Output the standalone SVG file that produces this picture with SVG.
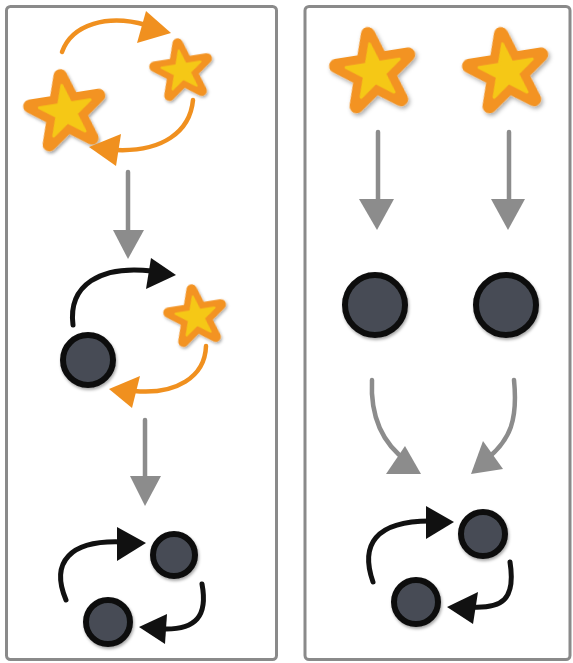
<svg xmlns="http://www.w3.org/2000/svg" width="573" height="663" viewBox="0 0 573 663">
<style>
.panel{fill:#fff;stroke:#8a8a8a;stroke-width:3}
.orange{fill:none;stroke:#F0901F;stroke-width:4.5;stroke-linecap:round}
.black{fill:none;stroke:#111;stroke-width:5;stroke-linecap:round}
.gray{fill:none;stroke:#8c8c8c;stroke-width:4.5;stroke-linecap:round}
.hO{fill:#F0901F}
.hB{fill:#111}
.hG{fill:#8c8c8c}
.dot{fill:#474c55;stroke:#0d0d0d;stroke-width:6}
</style>
<defs>
<filter id="sh" x="-30%" y="-30%" width="160%" height="160%">
<feDropShadow dx="1" dy="2" stdDeviation="1.5" flood-color="#000" flood-opacity="0.35"/>
</filter>
<path id="sp" d="M0,-30 L6.76,-9.3 L28.53,-9.27 L10.94,3.55 L17.63,24.27 L0,11.5 L-17.63,24.27 L-10.94,3.55 L-28.53,-9.27 L-6.76,-9.3 Z"/>
<g id="star" filter="url(#sh)">
<use href="#sp" fill="#F39324" stroke="#F39324" stroke-width="11" stroke-linejoin="round"/>
<use href="#sp" transform="scale(0.74)" fill="#F5C816" stroke="#F5C816" stroke-width="3" stroke-linejoin="round"/>
</g>
</defs>
<rect width="573" height="663" fill="#fff"/>
<rect class="panel" x="6.5" y="6.5" width="270" height="653" rx="4"/>
<rect class="panel" x="305" y="6.5" width="265" height="653" rx="4"/>

<g id="L-star-big"><use href="#star" transform="translate(66,112) rotate(-9) scale(1.22)"/></g>
<g id="L-star-small"><use href="#star" transform="translate(182,71) rotate(-9) scale(0.93)"/></g>
<g id="L-circle-mid" filter="url(#sh)"><circle class="dot" cx="88" cy="360" r="25"/></g>
<g id="L-star-mid"><use href="#star" transform="translate(196,317) rotate(-9) scale(0.93)"/></g>
<g id="L-circle-b1" filter="url(#sh)"><circle class="dot" cx="174" cy="555" r="21"/></g>
<g id="L-circle-b2" filter="url(#sh)"><circle class="dot" cx="108" cy="622" r="22"/></g>

<g id="R-star-1"><use href="#star" transform="translate(374,72) rotate(-9) scale(1.28)"/></g>
<g id="R-star-2"><use href="#star" transform="translate(507,72) rotate(-9) scale(1.28)"/></g>
<g id="R-circle-1" filter="url(#sh)"><circle class="dot" cx="375" cy="305" r="30"/></g>
<g id="R-circle-2" filter="url(#sh)"><circle class="dot" cx="506" cy="305" r="30"/></g>
<g id="R-circle-b1" filter="url(#sh)"><circle class="dot" cx="483" cy="534" r="22"/></g>
<g id="R-circle-b2" filter="url(#sh)"><circle class="dot" cx="416" cy="602" r="22"/></g>

<g id="connectors">
<path class="orange" d="M62,52 C72,24 108,14 146,25"/>
<polygon class="hO" points="146,11 171,33 137,43"/>
<path class="orange" d="M193,100 C190,132 162,152 116,150"/>
<polygon class="hO" points="121,134 89,147 116,166"/>
<path class="gray" d="M128,172 L128,234"/>
<polygon class="hG" points="113,230 144,230 128,259"/>

<path class="black" d="M73,325 C68,285 100,265 152,271"/>
<polygon class="hB" points="151,258 176,275 146,289"/>
<path class="orange" d="M206,346 C205,377 176,395 134,391"/>
<polygon class="hO" points="140,376 109,389 132,408"/>
<path class="gray" d="M145,420 L145,480"/>
<polygon class="hG" points="130,476 161,476 145,506"/>

<path class="black" d="M66,600 C50,562 70,540 122,542"/>
<polygon class="hB" points="117,527 146,543 117,561"/>
<path class="black" d="M202,584 C208,616 196,630 163,629"/>
<polygon class="hB" points="167,614 139,627 165,644"/>

<path class="gray" d="M378,132 L378,204"/>
<polygon class="hG" points="359,199 394,199 377,230"/>
<path class="gray" d="M509,132 L509,204"/>
<polygon class="hG" points="491,199 525,199 508,230"/>

<path class="gray" d="M372,380 C370,420 384,445 408,462"/>
<polygon class="hG" points="405,446 386,474 421,474"/>
<path class="gray" d="M514,380 C518,420 510,440 488,458"/>
<polygon class="hG" points="483,441 471,474 503,469"/>

<path class="black" d="M373,582 C360,545 375,521 430,521"/>
<polygon class="hB" points="426,506 454,522 426,539"/>
<path class="black" d="M510,562 C516,600 502,609 470,607"/>
<polygon class="hB" points="478,592 447,607 473,624"/>
</g>
</svg>
